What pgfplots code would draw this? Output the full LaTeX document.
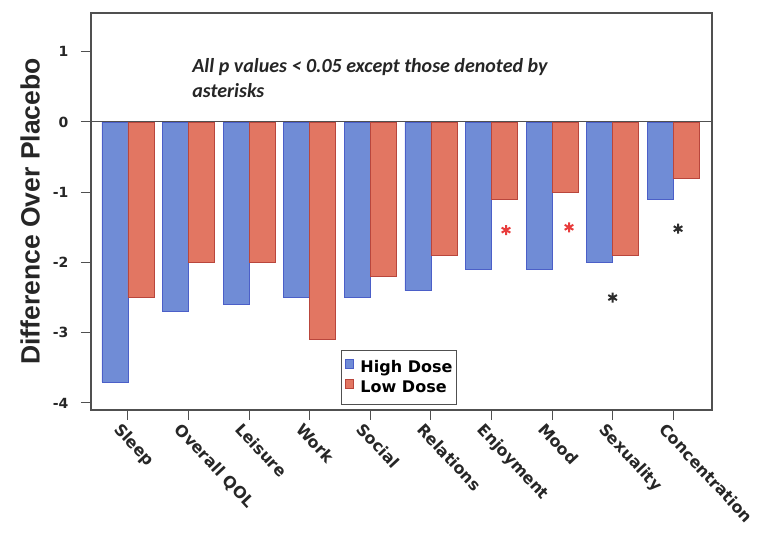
\documentclass[border=0pt]{standalone}
\usepackage{fontspec}
\setmainfont{DejaVu Sans}
\newfontfamily\labfont{Liberation Sans}
\newfontfamily\notefont{Carlito}
\usepackage{pgfplots}
\pgfplotsset{compat=1.18}
\definecolor{hiblue}{RGB}{112,140,214}
\definecolor{hibluedk}{RGB}{75,95,200}
\definecolor{lored}{RGB}{226,118,98}
\definecolor{loreddk}{RGB}{185,70,60}
\definecolor{framegray}{RGB}{80,80,80}
\definecolor{astred}{RGB}{232,60,60}
\definecolor{astblk}{RGB}{45,45,45}
\begin{document}
\begin{tikzpicture}
\path[use as bounding box] (-91pt,-125pt) rectangle (673pt,410pt);
\begin{axis}[
 at={(0,0)}, anchor=south west,
 scale only axis, width=621pt, height=397pt,
 ybar, bar width=26pt,
 xmin=-0.61, xmax=9.64, ymin=-4.1, ymax=1.55,
 xtick={0,...,9},
 xticklabels={Sleep,Overall QOL,Leisure,Work,Social,Relations,Enjoyment,Mood,Sexuality,Concentration},
 ytick={-4,-3,-2,-1,0,1}, yticklabels={-4,-3,-2,-1,0,1},
 tick align=outside, major tick length=10pt,
 xtick pos=bottom, ytick pos=left,
 axis line style={framegray, line width=1.2pt},
 tick style={framegray, line width=1pt},
 x tick label style={rotate=-47, anchor=north west, xshift=-6pt, yshift=-2pt, font=\fontsize{16}{18}\selectfont\bfseries, text=black!85},
 y tick label style={xshift=-9pt, font=\fontsize{14}{16}\selectfont\bfseries, text=black!85},
 ylabel={Difference Over Placebo},
 ylabel style={at={(axis description cs:-0.098,0.5)}, anchor=center, font=\labfont\fontsize{26.5}{30}\selectfont\bfseries, text=black!85},
 legend style={at={(rel axis cs:0.403,0.015)}, anchor=south west, draw=framegray, font=\fontsize{16}{18}\selectfont\bfseries, row sep=3pt, inner xsep=2pt, inner ysep=8pt},
 legend cell align=left,
 legend image code/.code={\draw[#1] (2pt,-1pt) rectangle (10pt,8pt); \path[draw=none, fill=none] (0pt,0pt) rectangle (15pt,1pt);},
 clip=false,
]
\addplot[fill=hiblue, draw=hibluedk, line width=0.6pt, bar shift=-13pt] coordinates {
 (0,-3.7) (1,-2.7) (2,-2.6) (3,-2.5) (4,-2.5) (5,-2.4) (6,-2.1) (7,-2.1) (8,-2.0) (9,-1.1)};
\addplot[fill=lored, draw=loreddk, line width=0.6pt, bar shift=13pt] coordinates {
 (0,-2.5) (1,-2.0) (2,-2.0) (3,-3.1) (4,-2.2) (5,-1.9) (6,-1.1) (7,-1.0) (8,-1.9) (9,-0.8)};
\legend{High Dose, Low Dose}
\addplot[forget plot, only marks, mark=asterisk, mark size=5pt, astred, line width=2pt] coordinates {(6.24,-1.54) (7.28,-1.5)};
\addplot[forget plot, only marks, mark=asterisk, mark size=5pt, astblk, line width=2pt] coordinates {(8.0,-2.5) (9.08,-1.52)};
\draw[framegray, line width=1pt] (axis cs:-0.61,0) -- (axis cs:9.64,0);
\node[anchor=north west, align=left, inner sep=0pt, font=\notefont\fontsize{20}{25}\selectfont\bfseries\itshape, text=black!85] at (axis cs:1.06,0.9) {All p values < 0.05 except those denoted by\\asterisks};
\end{axis}
\end{tikzpicture}
\end{document}
